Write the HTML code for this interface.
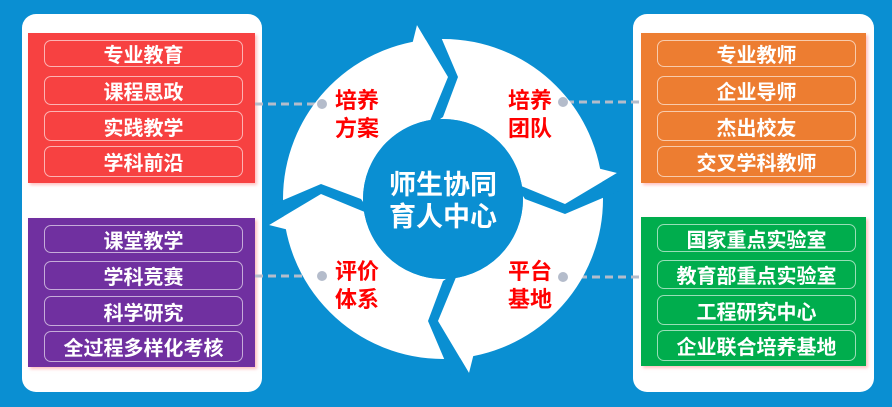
<!DOCTYPE html>
<html><head><meta charset="utf-8"><style>
body{margin:0;width:892px;height:407px;background:#0a8fd2;position:relative;overflow:hidden;font-family:"Liberation Sans","Noto Sans CJK SC",sans-serif}
.panel{position:absolute;background:#fff;border-radius:14px;top:14px;height:378px}
.box{position:absolute;box-shadow:2px 2px 3px rgba(255,150,150,.6)}
.it{position:absolute;left:16px;width:199px;border:1.5px solid rgba(255,255,255,.6);border-radius:7px;color:#fff;font-weight:bold;font-size:20px;text-align:center;box-sizing:border-box;display:flex;align-items:center;justify-content:center}
</style></head><body>
<div class="panel" style="left:22px;width:240px"></div>
<div class="panel" style="left:633px;width:241px"></div>

<div class="box" style="left:28px;top:33px;width:227px;height:150px;background:#f74141">
<div class="it" style="top:7px;height:27px">专业教育</div>
<div class="it" style="top:43px;height:29px">课程思政</div>
<div class="it" style="top:78px;height:30px">实践教学</div>
<div class="it" style="top:113px;height:31px">学科前沿</div>
</div>
<div class="box" style="left:28px;top:218px;width:227px;height:149px;background:#7030a0">
<div class="it" style="top:7px;height:28px">课堂教学</div>
<div class="it" style="top:43px;height:29px">学科竞赛</div>
<div class="it" style="top:78px;height:30px">科学研究</div>
<div class="it" style="top:113px;height:31px">全过程多样化考核</div>
</div>
<div class="box" style="left:641px;top:33px;width:225px;height:150px;background:#ed7d31">
<div class="it" style="top:7px;height:27px">专业教师</div>
<div class="it" style="top:43px;height:29px">企业导师</div>
<div class="it" style="top:78px;height:30px">杰出校友</div>
<div class="it" style="top:113px;height:31px">交叉学科教师</div>
</div>
<div class="box" style="left:641px;top:217px;width:225px;height:149px;background:#00ad4d">
<div class="it" style="top:7px;height:28px">国家重点实验室</div>
<div class="it" style="top:43px;height:29px">教育部重点实验室</div>
<div class="it" style="top:78px;height:30px">工程研究中心</div>
<div class="it" style="top:113px;height:31px">企业联合培养基地</div>
</div>

<svg width="892" height="407" style="position:absolute;left:0;top:0">
<g stroke="#b4bccb" stroke-width="3" stroke-dasharray="8,5">
<line x1="255" y1="104" x2="320" y2="104"/><line x1="255" y1="276" x2="320" y2="276"/>
<line x1="566" y1="102" x2="640" y2="102"/><line x1="566" y1="277" x2="640" y2="277"/>
</g>
<g transform="translate(443,199)">
<circle r="120" fill="none" stroke="#fff" stroke-width="80"/>
<g id="g">
<polygon points="-26,-174 5,-122 -32,-150 -30,-158" fill="#fff"/>
<polygon points="-26,-174 5,-122 -16,-71 0,-82 15,-122 -8,-176" fill="#0a8fd2"/>
</g>
<use href="#g" transform="rotate(90)"/>
<use href="#g" transform="rotate(180)"/>
<use href="#g" transform="rotate(270)"/>
<circle r="80" fill="#0a8fd2"/>
</g>
<g fill="#b4bccb"><circle cx="322" cy="104" r="5"/><circle cx="322" cy="276" r="5"/><circle cx="563" cy="102" r="5"/><circle cx="563" cy="277" r="5"/></g>
<g fill="#f00" font-weight="bold" font-size="22" text-anchor="middle" font-family="Liberation Sans,Noto Sans CJK SC,sans-serif">
<text x="357" y="108">培养</text><text x="357" y="136">方案</text>
<text x="530" y="108">培养</text><text x="530" y="136">团队</text>
<text x="357" y="279">评价</text><text x="357" y="307">体系</text>
<text x="530" y="279">平台</text><text x="530" y="307">基地</text>
</g>
<g fill="#fff" font-weight="bold" font-size="27" text-anchor="middle" font-family="Liberation Sans,Noto Sans CJK SC,sans-serif">
<text x="443" y="194">师生协同</text><text x="443" y="226">育人中心</text>
</g>
</svg>
</body></html>
